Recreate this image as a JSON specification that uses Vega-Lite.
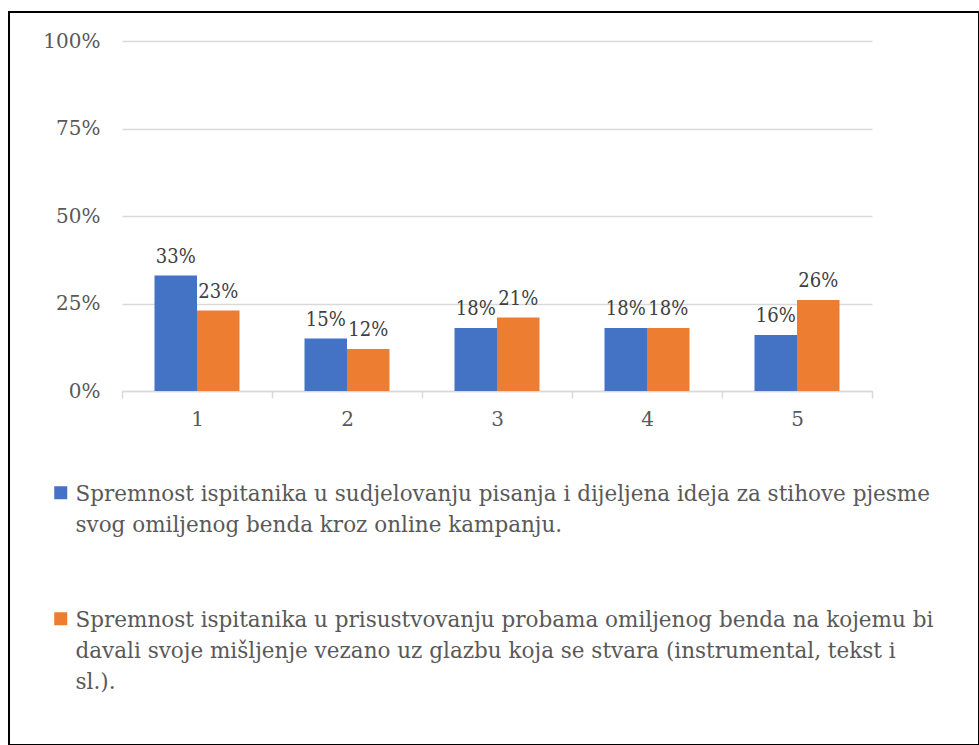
{
  "$schema": "https://vega.github.io/schema/vega-lite/v6.json",
  "width": 970,
  "height": 733,
  "autosize": {"type": "none"},
  "padding": {"left": 9, "top": 12, "right": 0, "bottom": 0},
  "background": "white",
  "config": {
    "view": {"stroke": "black", "strokeWidth": 2},
    "font": "DejaVu Serif"
  },
  "data": {
    "values": [
      {"category": "1", "series": "Spremnost ispitanika u sudjelovanju pisanja i dijeljena ideja za stihove pjesme svog omiljenog benda kroz online kampanju.", "value": 0.33},
      {"category": "1", "series": "Spremnost ispitanika u prisustvovanju probama omiljenog benda na kojemu bi davali svoje mišljenje vezano uz glazbu koja se stvara (instrumental, tekst i sl.).", "value": 0.23},
      {"category": "2", "series": "Spremnost ispitanika u sudjelovanju pisanja i dijeljena ideja za stihove pjesme svog omiljenog benda kroz online kampanju.", "value": 0.15},
      {"category": "2", "series": "Spremnost ispitanika u prisustvovanju probama omiljenog benda na kojemu bi davali svoje mišljenje vezano uz glazbu koja se stvara (instrumental, tekst i sl.).", "value": 0.12},
      {"category": "3", "series": "Spremnost ispitanika u sudjelovanju pisanja i dijeljena ideja za stihove pjesme svog omiljenog benda kroz online kampanju.", "value": 0.18},
      {"category": "3", "series": "Spremnost ispitanika u prisustvovanju probama omiljenog benda na kojemu bi davali svoje mišljenje vezano uz glazbu koja se stvara (instrumental, tekst i sl.).", "value": 0.21},
      {"category": "4", "series": "Spremnost ispitanika u sudjelovanju pisanja i dijeljena ideja za stihove pjesme svog omiljenog benda kroz online kampanju.", "value": 0.18},
      {"category": "4", "series": "Spremnost ispitanika u prisustvovanju probama omiljenog benda na kojemu bi davali svoje mišljenje vezano uz glazbu koja se stvara (instrumental, tekst i sl.).", "value": 0.18},
      {"category": "5", "series": "Spremnost ispitanika u sudjelovanju pisanja i dijeljena ideja za stihove pjesme svog omiljenog benda kroz online kampanju.", "value": 0.16},
      {"category": "5", "series": "Spremnost ispitanika u prisustvovanju probama omiljenog benda na kojemu bi davali svoje mišljenje vezano uz glazbu koja se stvara (instrumental, tekst i sl.).", "value": 0.26}
    ]
  },
  "encoding": {
    "x": {
      "field": "category",
      "type": "nominal",
      "scale": {"range": [113, 863], "paddingInner": 0, "paddingOuter": 0},
      "axis": {
        "title": null,
        "orient": "bottom",
        "offset": -354,
        "labelAngle": 0,
        "labelFont": "DejaVu Serif",
        "labelFontSize": 20,
        "labelColor": "#595959",
        "labelPadding": 11,
        "domainColor": "#d9d9d9",
        "domainWidth": 1.5,
        "tickColor": "#d9d9d9",
        "tickWidth": 1.5,
        "tickSize": 7,
        "tickBand": "extent",
        "grid": false
      }
    },
    "xOffset": {
      "field": "series",
      "type": "nominal",
      "sort": null,
      "scale": {"paddingOuter": 0.765, "paddingInner": 0}
    },
    "y": {
      "field": "value",
      "type": "quantitative",
      "scale": {"domain": [0, 1], "range": [379, 29]},
      "axis": {
        "title": null,
        "offset": -113,
        "values": [0, 0.25, 0.5, 0.75, 1],
        "format": ".0%",
        "domain": false,
        "ticks": false,
        "tickSize": 0,
        "labelPadding": 22,
        "labelFont": "DejaVu Serif",
        "labelFontSize": 20,
        "labelColor": "#595959",
        "gridColor": "#d9d9d9",
        "gridWidth": 1.5
      }
    }
  },
  "layer": [
    {
      "mark": {"type": "bar"},
      "encoding": {
        "color": {
          "field": "series",
          "type": "nominal",
          "sort": null,
          "scale": {"range": ["#4472C4", "#ED7D31"]},
          "legend": {
            "orient": "none",
            "legendX": 41,
            "legendY": 470,
            "title": null,
            "direction": "vertical",
            "padding": 0,
            "symbolType": "square",
            "symbolSize": 169,
            "symbolStrokeWidth": 0,
            "symbolOpacity": 1,
            "labelFont": "DejaVu Serif",
            "labelFontSize": 21.5,
            "labelColor": "#595959",
            "labelLimit": 1200,
            "labelOffset": 4,
            "labelBaseline": "alphabetic",
            "rowPadding": 71,
            "labelExpr": "indexof(datum.label, 'sudjelovanju') >= 0 ? ['Spremnost ispitanika u sudjelovanju pisanja i dijeljena ideja za stihove pjesme', 'svog omiljenog benda kroz online kampanju.'] : ['Spremnost ispitanika u prisustvovanju probama omiljenog benda na kojemu bi', 'davali svoje mišljenje vezano uz glazbu koja se stvara (instrumental, tekst i', 'sl.).']",
            "encode": {
              "labels": {"update": {"dy": {"value": 8}, "lineHeight": {"value": 31}}}
            }
          }
        }
      }
    },
    {
      "mark": {
        "type": "text",
        "baseline": "alphabetic",
        "dy": -13,
        "font": "DejaVu Serif Condensed",
        "fontSize": 20,
        "color": "#404040"
      },
      "encoding": {
        "text": {"field": "value", "type": "quantitative", "format": ".0%"}
      }
    }
  ]
}
